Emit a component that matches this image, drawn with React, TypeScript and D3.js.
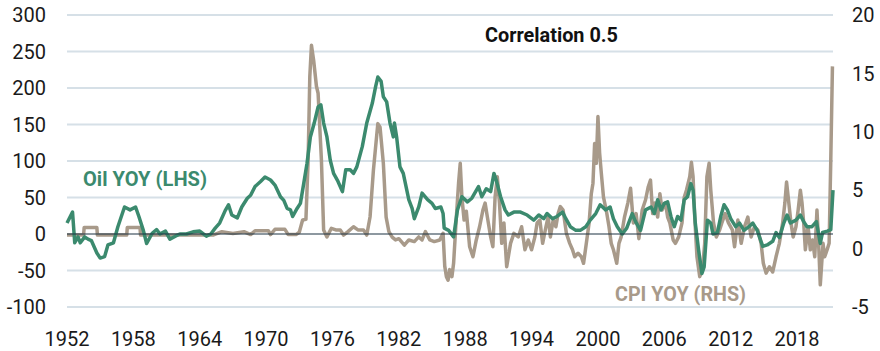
import React from 'react';
import * as d3 from 'd3';

// Oil YOY, left axis (%), [year, value]
const oilSeries: [number, number][] = [
  [1952.0, 15], [1952.5, 30], [1952.7, -12], [1953.0, -4], [1953.2, -12], [1953.6, -4],
  [1953.9, -7], [1954.2, -9], [1954.7, -26], [1955.0, -33], [1955.4, -31], [1955.7, -15],
  [1956.2, -12], [1956.6, 10], [1957.2, 37], [1957.7, 33], [1958.2, 37], [1958.5, 24],
  [1958.9, 5], [1959.2, -13], [1959.7, 1], [1960.1, 6], [1960.4, 0], [1960.9, 4],
  [1961.3, -7], [1961.8, -3], [1962.2, 0], [1962.8, 0], [1963.4, 3], [1964.0, 4],
  [1964.6, -3], [1965.0, 0], [1965.4, 8], [1965.8, 15], [1966.3, 32], [1966.6, 40],
  [1966.9, 26], [1967.4, 22], [1967.8, 37], [1968.3, 49], [1968.6, 53], [1969.0, 65],
  [1969.5, 72], [1969.9, 78], [1970.4, 74], [1970.8, 67], [1971.3, 51], [1971.6, 46],
  [1971.9, 35], [1972.2, 33], [1972.4, 24], [1972.8, 35], [1973.1, 42], [1973.4, 69],
  [1973.7, 97], [1974.0, 133], [1974.35, 152], [1974.7, 174], [1974.95, 177], [1975.2, 152],
  [1975.5, 133], [1975.8, 101], [1976.1, 83], [1976.5, 72], [1976.9, 58], [1977.2, 88],
  [1977.6, 88], [1977.9, 83], [1978.2, 92], [1978.7, 120], [1979.1, 152], [1979.6, 179],
  [1979.9, 202], [1980.1, 215], [1980.4, 209], [1980.6, 188], [1980.9, 181], [1981.2, 152],
  [1981.5, 133], [1981.6, 152], [1981.8, 133], [1982.1, 92], [1982.4, 83], [1982.9, 47],
  [1983.2, 35], [1983.4, 21], [1983.8, 37], [1984.1, 56], [1984.6, 47], [1985.0, 42],
  [1985.3, 35], [1985.8, 37], [1986.0, 28], [1986.1, 8], [1986.5, 5], [1986.95, -4],
  [1987.3, 33], [1987.7, 51], [1988.2, 44], [1988.6, 49], [1989.2, 65], [1989.5, 51],
  [1989.9, 62], [1990.3, 58], [1990.6, 83], [1990.8, 74], [1991.2, 51], [1991.6, 33],
  [1991.9, 26], [1992.4, 30], [1993.0, 30], [1993.6, 26], [1994.2, 19], [1994.65, 26],
  [1995.1, 21], [1995.4, 28], [1995.9, 21], [1996.3, 24], [1996.8, 30], [1997.1, 21],
  [1997.5, 10], [1998.0, 5], [1998.4, 5], [1998.9, 10], [1999.3, 19], [1999.8, 28],
  [2000.2, 40], [2000.7, 33], [2001.1, 37], [2001.4, 21], [2001.75, 10], [2002.2, 0],
  [2002.6, 8], [2003.1, 28], [2003.4, 17], [2003.85, 5], [2004.3, 33], [2004.8, 37],
  [2005.1, 28], [2005.4, 47], [2005.7, 33], [2006.0, 42], [2006.3, 44], [2006.6, 24],
  [2006.9, 10], [2007.2, 24], [2007.5, 19], [2007.8, 47], [2008.1, 51], [2008.4, 69],
  [2008.6, 60], [2008.8, 15], [2009.1, -22], [2009.4, -54], [2009.6, -45], [2009.9, 19],
  [2010.2, 15], [2010.4, 0], [2010.8, 2], [2011.1, 24], [2011.4, 40], [2011.7, 33],
  [2012.0, 21], [2012.45, 10], [2012.8, 15], [2013.2, 5], [2013.65, 10], [2014.0, 15],
  [2014.4, 5], [2014.9, -17], [2015.3, -15], [2015.8, -10], [2016.1, 2], [2016.4, -5],
  [2016.8, 15], [2017.1, 26], [2017.4, 15], [2017.9, 19], [2018.3, 26], [2018.6, 17],
  [2018.9, 10], [2019.35, 10], [2019.75, 17], [2020.1, -13], [2020.3, 2], [2020.75, 4],
  [2021.05, 6], [2021.25, 60],
];

// CPI YOY, right axis (%), [year, value]
const cpiSeries: [number, number][] = [
  [1952.0, 1.16], [1953.5, 1.16], [1953.55, 1.8], [1954.7, 1.8], [1954.75, 1.16],
  [1957.4, 1.16], [1957.45, 1.8], [1958.6, 1.8], [1958.65, 1.16], [1965.2, 1.16],
  [1966.0, 1.45], [1967.0, 1.3], [1968.0, 1.45], [1968.6, 1.2], [1969.0, 1.53],
  [1970.2, 1.53], [1970.4, 1.2], [1970.8, 1.65], [1971.7, 1.65], [1972.0, 1.2],
  [1972.7, 1.2], [1973.0, 1.4], [1973.3, 2.45], [1973.6, 2.5], [1973.8, 7.6],
  [1973.95, 14.7], [1974.1, 17.4], [1974.3, 16.1], [1974.55, 13.9], [1974.7, 13.3],
  [1975.0, 7.6], [1975.2, 1.6], [1975.5, 1.0], [1975.9, 1.74], [1976.3, 1.6],
  [1976.7, 1.6], [1977.0, 1.16], [1977.4, 1.45], [1977.9, 1.87], [1978.3, 1.6],
  [1978.8, 1.6], [1979.1, 1.16], [1979.4, 2.73], [1979.7, 6.7], [1980.1, 10.7],
  [1980.3, 10.4], [1980.6, 7.3], [1980.85, 2.7], [1981.1, 1.45], [1981.4, 0.98],
  [1981.7, 0.74], [1982.0, 0.85], [1982.5, 0.3], [1982.9, 0.74], [1983.4, 0.6],
  [1983.8, 1.0], [1984.1, 0.74], [1984.4, 1.45], [1984.8, 0.74], [1985.2, 0.6],
  [1985.7, 0.74], [1986.0, 1.3], [1986.15, -1.5], [1986.3, -2.4], [1986.45, -2.7],
  [1986.6, -1.8], [1986.8, -2.4], [1986.95, -1.26], [1987.2, 2.7], [1987.4, 5.6],
  [1987.55, 7.3], [1987.7, 4.4], [1987.9, 2.45], [1988.1, 3.2], [1988.4, 0.16],
  [1988.7, -0.7], [1989.0, 0.74], [1989.3, 1.87], [1989.6, 3.3], [1989.8, 3.9],
  [1990.0, 2.73], [1990.3, 1.0], [1990.5, 0.16], [1990.7, 4.4], [1990.9, 6.15],
  [1991.1, 3.9], [1991.3, 0.45], [1991.5, 2.2], [1991.75, -1.55], [1992.1, 0.45],
  [1992.4, 1.3], [1992.8, 1.0], [1993.1, 1.87], [1993.4, -0.1], [1993.7, 0.74],
  [1994.0, -0.1], [1994.3, 1.0], [1994.5, 2.2], [1994.75, 2.45], [1995.0, 0.45],
  [1995.3, 1.87], [1995.5, 2.73], [1995.7, 1.0], [1995.95, 2.45], [1996.2, 1.87],
  [1996.4, 3.0], [1996.6, 3.6], [1996.85, 3.3], [1997.15, 1.3], [1997.45, 0.45],
  [1997.7, -0.1], [1997.9, -0.7], [1998.2, -0.4], [1998.5, -0.7], [1998.7, -1.26],
  [1998.95, 0.45], [1999.2, 2.2], [1999.4, 4.7], [1999.55, 5.6], [1999.7, 9.0],
  [1999.85, 7.3], [2000.0, 11.3], [2000.15, 8.2], [2000.3, 6.5], [2000.5, 4.4],
  [2000.75, 3.3], [2001.0, 1.87], [2001.2, 0.45], [2001.4, -0.1], [2001.7, -1.26],
  [2001.9, 0.45], [2002.1, 1.0], [2002.4, 2.7], [2002.7, 3.9], [2002.95, 5.16],
  [2003.2, 2.2], [2003.45, 3.0], [2003.7, 0.85], [2004.0, 3.3], [2004.3, 4.16],
  [2004.55, 5.3], [2004.75, 5.87], [2004.95, 3.0], [2005.15, 3.9], [2005.4, 2.7],
  [2005.6, 4.7], [2005.8, 3.3], [2006.1, 3.9], [2006.3, 2.7], [2006.5, 2.2],
  [2006.8, 0.74], [2007.0, 0.45], [2007.3, 1.0], [2007.6, 2.2], [2007.8, 4.4],
  [2008.0, 5.0], [2008.3, 6.15], [2008.45, 7.4], [2008.6, 6.15], [2008.75, 2.7],
  [2008.95, -0.7], [2009.2, -2.4], [2009.45, -1.8], [2009.65, 0.45], [2009.85, 6.15],
  [2010.05, 7.3], [2010.2, 5.0], [2010.45, 2.2], [2010.7, 1.0], [2011.0, 1.6],
  [2011.2, 2.2], [2011.5, 3.0], [2011.8, 2.2], [2012.15, 1.6], [2012.35, 0.16],
  [2012.65, 2.45], [2012.95, 0.45], [2013.25, 1.87], [2013.55, 2.7], [2013.85, 1.0],
  [2014.15, 1.87], [2014.45, 1.6], [2014.75, 0.45], [2014.95, -1.26], [2015.2, -2.1],
  [2015.5, -1.55], [2015.8, -2.0], [2016.1, -0.7], [2016.4, 0.45], [2016.7, 2.2],
  [2016.9, 3.9], [2017.05, 5.7], [2017.2, 4.4], [2017.45, 2.2], [2017.65, 1.0],
  [2017.9, 1.87], [2018.1, 3.3], [2018.3, 5.0], [2018.45, 3.9], [2018.6, 2.2],
  [2018.75, -0.1], [2019.0, 1.87], [2019.2, -0.1], [2019.4, 0.74], [2019.6, -0.7],
  [2019.8, 3.3], [2019.95, 0.45], [2020.1, -3.1], [2020.35, 0.45], [2020.5, -0.7],
  [2020.75, 0.0], [2020.9, 0.45], [2021.05, 7.6], [2021.2, 15.6],
];

const xTicks = [1952, 1958, 1964, 1970, 1976, 1982, 1988, 1994, 2000, 2006, 2012, 2018];
const leftTicks = [-100, -50, 0, 50, 100, 150, 200, 250, 300];
const rightTicks = [-5, 0, 5, 10, 15, 20];

const W = 880;
const H = 351;
const FONT = 'Roboto, "Noto Sans", sans-serif';
const GREEN = '#3b8a6e';
const BROWN = '#a89a8a';

export default function App() {
  const x = d3.scaleLinear().domain([1952, 2021.25]).range([67, 833]);
  const yL = d3.scaleLinear().domain([-100, 300]).range([307, 15]);
  const yR = d3.scaleLinear().domain([-5, 20]).range([307, 15]);

  const oilLine = d3.line<[number, number]>()
    .x(d => x(d[0]))
    .y(d => yL(d[1]));
  const cpiLine = d3.line<[number, number]>()
    .x(d => x(d[0]))
    .y(d => yR(d[1]));

  return (
    <svg width={W} height={H} style={{ position: 'absolute', left: 0, top: 0, background: '#fff' }} fontFamily={FONT}>
      {/* gridlines */}
      {leftTicks.filter(t => t !== 0).map(t => (
        <line key={t} x1={67} x2={833} y1={yL(t)} y2={yL(t)} stroke="#d6e0e7" strokeWidth={1.8} />
      ))}

      {/* left axis labels */}
      {leftTicks.map(t => (
        <text key={t} x={46} y={yL(t)} dy="0.36em" textAnchor="end" fontSize={20} fill="#1a1a1a">{t}</text>
      ))}

      {/* right axis labels */}
      {rightTicks.map(t => (
        <text key={t} x={852} y={yR(t)} dy="0.36em" textAnchor="start" fontSize={20} fill="#1a1a1a">{t}</text>
      ))}

      {/* x axis labels */}
      {xTicks.map(t => (
        <text key={t} x={x(t)} y={346} textAnchor="middle" fontSize={20} fill="#1a1a1a">{t}</text>
      ))}

      <path d={cpiLine(cpiSeries) || ''} fill="none" stroke={BROWN} strokeWidth={3.5} strokeLinejoin="round" />
      <path d={oilLine(oilSeries) || ''} fill="none" stroke={GREEN} strokeWidth={3.5} strokeLinejoin="round" />

      {/* zero line */}
      <line x1={67} x2={833} y1={yL(0)} y2={yL(0)} stroke="#1d3342" strokeWidth={1.2} />

      <text x={485} y={42} fontSize={19.5} fontWeight="bold" fill="#111" textLength={133} lengthAdjust="spacingAndGlyphs">Correlation 0.5</text>
      <text x={83} y={186} fontSize={19.5} fontWeight="bold" fill={GREEN} textLength={124} lengthAdjust="spacingAndGlyphs">Oil YOY (LHS)</text>
      <text x={615} y={301} fontSize={19.5} fontWeight="bold" fill={BROWN} textLength={131} lengthAdjust="spacingAndGlyphs">CPI YOY (RHS)</text>
    </svg>
  );
}
